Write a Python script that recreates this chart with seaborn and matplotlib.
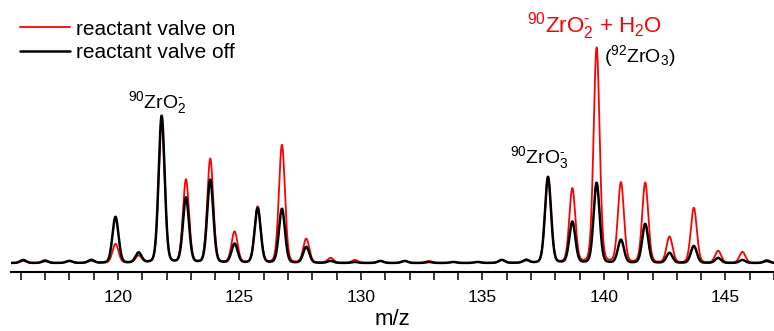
import numpy as np
import pandas as pd
import matplotlib
matplotlib.use("Agg")
import matplotlib.pyplot as plt
from matplotlib.ticker import MultipleLocator
import seaborn as sns

# peak centres (m/z) and peak heights (arbitrary units)
peak_mz = [116.1, 117.0, 118.0, 118.9, 119.9, 120.85, 121.8, 122.8, 123.8, 124.8,
           125.75, 126.75, 127.75, 128.75, 129.75, 130.8, 131.8, 132.8, 133.8, 134.8,
           135.8, 136.8, 137.7, 138.7, 139.7, 140.7, 141.7, 142.7, 143.7, 144.7,
           145.7, 146.7]
height_off = [3, 2, 2, 3, 46, 10, 147, 65, 83, 19,
              55, 54, 16, 2, 1, 2, 2, 1, 1, 1,
              3, 3, 86, 41, 80, 23, 39, 10, 17, 5,
              3, 2]
height_on = [2, 3, 2, 2, 19, 7, 140, 83, 104, 31,
             56, 118, 24, 5, 3, 2, 2, 2, 1, 1,
             3, 2, 85, 74, 215, 80, 80, 26, 55, 12,
             11, 3]
series_labels = ["reactant valve on", "reactant valve off"]
series_colors = ["#ff0000", "#000000"]


def spectrum(mz, centres, heights, sigma=0.125, gamma=0.14):
    """Sum of pseudo-Voigt peak profiles on the m/z grid."""
    y = np.zeros_like(mz)
    for c, h in zip(centres, heights):
        g = np.exp(-0.5 * ((mz - c) / sigma) ** 2)
        l = 1.0 / (1.0 + ((mz - c) / gamma) ** 2)
        y += h * (0.85 * g + 0.15 * l)
    return y


mz = np.linspace(115.6, 147.0, 4000)
df = pd.concat([
    pd.DataFrame({"m/z": mz, "signal": spectrum(mz, peak_mz, height_on), "series": series_labels[0]}),
    pd.DataFrame({"m/z": mz, "signal": spectrum(mz, peak_mz, height_off), "series": series_labels[1]}),
])

sns.set_style("white")
plt.rcParams["font.family"] = ["Liberation Sans", "DejaVu Sans"]
plt.rcParams["mathtext.fontset"] = "custom"
plt.rcParams["mathtext.rm"] = "Liberation Sans"
plt.rcParams["mathtext.it"] = "Liberation Sans"
plt.rcParams["text.color"] = "black"
plt.rcParams["axes.labelcolor"] = "black"
plt.rcParams["xtick.color"] = "black"
plt.rcParams["axes.edgecolor"] = "black"

fig = plt.figure(figsize=(7.74, 3.31), dpi=100)
ax = fig.add_axes([11 / 774, 59 / 331, 763 / 774, 272 / 331])

for label, color, lw in zip(series_labels, series_colors, [1.3, 1.8]):
    sns.lineplot(data=df[df["series"] == label], x="m/z", y="signal", color=color,
                 linewidth=lw, label=label, ax=ax)

ax.set_xlim(115.6, 147.0)
ax.set_ylim(-9, 263)
ax.set_yticks([])
ax.set_ylabel("")
for side in ["left", "top", "right"]:
    ax.spines[side].set_visible(False)
ax.spines["bottom"].set_linewidth(1.5)
ax.spines["bottom"].set_color("black")
ax.xaxis.set_major_locator(MultipleLocator(5))
ax.xaxis.set_minor_locator(MultipleLocator(1))
ax.tick_params(axis="x", which="both", direction="out", length=6, width=1.1,
               bottom=True, labelsize=12.5, pad=7, colors="black")
ax.set_xlabel("m/z", fontsize=16, labelpad=3, color="black")

leg = ax.legend(loc="upper left", bbox_to_anchor=(1 / 774, 1 - 1 / 331), bbox_transform=fig.transFigure,
                frameon=False, fontsize=15, handlelength=2.4, handletextpad=0.3,
                labelspacing=0.22, borderaxespad=0.5)
for t in leg.get_texts():
    t.set_color("black")

hy = "\u2010"
ax.text(121.6, 155, r"$^{90}$ZrO$_2^{%s}$" % hy, fontsize=14, ha="center", va="baseline", color="black")
ax.text(137.36, 100, r"$^{90}$ZrO$_3^{%s}$" % hy, fontsize=14, ha="center", va="baseline", color="black")
ax.text(139.6, 230, r"$^{90}$ZrO$_2^{%s}$ + H$_2$O" % hy, fontsize=16, color="#ff0000",
        ha="center", va="baseline")
ax.text(141.47, 201, r"($^{92}$ZrO$_3$)", fontsize=14, ha="center", va="baseline", color="black")

fig.savefig("out.png", dpi=100)
